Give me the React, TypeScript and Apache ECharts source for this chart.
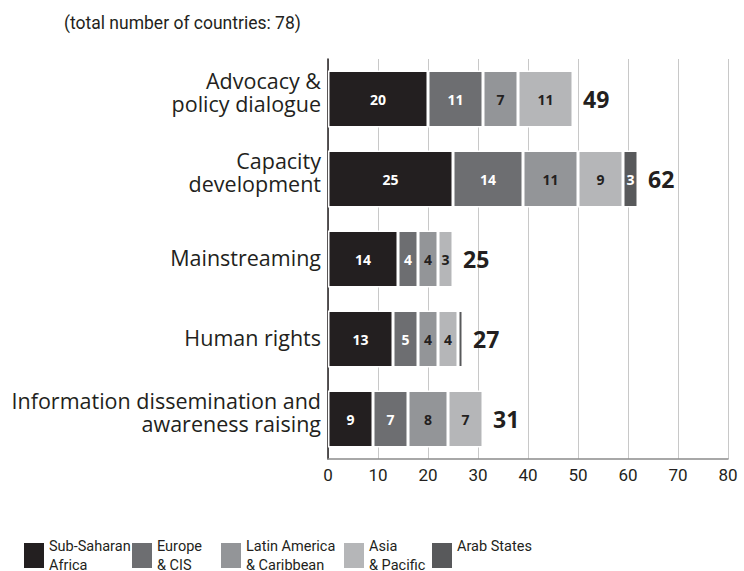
import React, { useEffect, useRef } from "react";
import * as echarts from "echarts";

const categories = [
  "Advocacy &\npolicy dialogue",
  "Capacity\ndevelopment",
  "Mainstreaming",
  "Human rights",
  "Information dissemination and\nawareness raising",
];

const seriesNames = [
  "Sub-Saharan Africa",
  "Europe & CIS",
  "Latin America & Caribbean",
  "Asia & Pacific",
  "Arab States",
];

const legendLabels = [
  "Sub-Saharan\nAfrica",
  "Europe\n& CIS",
  "Latin America\n& Caribbean",
  "Asia\n& Pacific",
  "Arab States\n ",
];

const subSaharanAfrica = [20, 25, 14, 13, 9];
const europeCIS = [11, 14, 4, 5, 7];
const latinAmerica = [7, 11, 4, 4, 8];
const asiaPacific = [11, 9, 3, 4, 7];
const arabStates = [0, 3, 0, 1, 0];

const totals = [49, 62, 25, 27, 31];

const xTicks = [0, 10, 20, 30, 40, 50, 60, 70, 80];

const colors = ["#231f20", "#6d6e71", "#939598", "#b5b6b8", "#58595b"];
const labelColors = ["#ffffff", "#ffffff", "#231f20", "#231f20", "#ffffff"];
const legendLefts = [24, 132, 221, 344, 432];

const TEXT = "#231f20";
const NARROW = "Roboto, sans-serif";
const SANS = "'Open Sans', sans-serif";

export default function App() {
  const ref = useRef<HTMLDivElement>(null);

  useEffect(() => {
    if (!ref.current) return;
    const chart = echarts.init(ref.current, undefined, { renderer: "svg" });
    const values = [subSaharanAfrica, europeCIS, latinAmerica, asiaPacific, arabStates];

    const barSeries = values.map((vals, i) => ({
      name: seriesNames[i],
      type: "bar",
      stack: "total",
      barWidth: 57,
      data: vals,
      itemStyle: { color: colors[i], borderColor: "#ffffff", borderWidth: 1.5 },
      label: {
        show: true,
        position: "inside",
        color: labelColors[i],
        fontFamily: SANS,
        fontWeight: "bold",
        fontSize: 14,
        formatter: (p: any) => (p.value >= 2 ? String(p.value) : ""),
      },
    }));

    chart.setOption({
      animation: false,
      title: {
        text: "(total number of countries: 78)",
        left: 64,
        top: 14,
        padding: 0,
        textStyle: { fontFamily: NARROW, fontSize: 17.5, fontWeight: "normal", color: TEXT },
      },
      legend: seriesNames.map((name, i) => ({
        data: [name],
        left: legendLefts[i],
        top: 530.5,
        padding: 0,
        itemWidth: 20,
        itemHeight: 25,
        icon: "rect",
        symbolKeepAspect: false,
        itemStyle: { color: colors[i], borderWidth: 0, borderColor: "transparent" },
        formatter: () => legendLabels[i],
        textStyle: {
          fontFamily: NARROW,
          fontSize: 14.5,
          lineHeight: 19,
          color: TEXT,
          padding: [12, 0, 0, 0],
        },
      })),
      grid: { left: 328, right: 16, top: 59, bottom: 112, containLabel: false },
      xAxis: {
        type: "value",
        min: xTicks[0],
        max: xTicks[xTicks.length - 1],
        interval: 10,
        axisLine: { show: true, lineStyle: { color: "#8c8c8c", width: 1.5 } },
        axisTick: { show: false },
        splitLine: { show: true, lineStyle: { color: "#c8c8c8", width: 1 } },
        axisLabel: { fontFamily: NARROW, fontSize: 17, color: TEXT, margin: 7 },
      },
      yAxis: {
        type: "category",
        inverse: true,
        data: categories,
        axisLine: { show: true, lineStyle: { color: TEXT, width: 1.5 } },
        axisTick: { show: false },
        splitLine: { show: false },
        axisLabel: {
          margin: 7,
          align: "right",
          formatter: (v: string) => {
            const lines = v.split("\n");
            const body = lines.map((l) => `{a|${l}}`).join("\n");
            return body + (lines.length > 1 ? "\n{s| }" : "\n{t| }");
          },
          rich: {
            a: { fontFamily: SANS, fontSize: 21.5, lineHeight: 23, color: TEXT },
            s: { fontSize: 1, lineHeight: 14 },
            t: { fontSize: 1, lineHeight: 4 },
          },
        },
      },
      series: [
        ...barSeries,
        {
          name: "Total",
          type: "scatter",
          symbolSize: 0,
          itemStyle: { opacity: 1 },
          data: totals.map((t, i) => [t, categories[i]]),
          label: {
            show: true,
            position: "right",
            distance: 10,
            color: TEXT,
            opacity: 1,
            fontFamily: SANS,
            fontWeight: "bold",
            fontSize: 23,
            formatter: (p: any) => String(p.value[0]),
          },
          z: 10,
        },
      ],
    });
    return () => chart.dispose();
  }, []);

  return (
    <div
      ref={ref}
      style={{ position: "fixed", left: 0, top: 0, width: 744, height: 571, background: "#fff" }}
    />
  );
}
